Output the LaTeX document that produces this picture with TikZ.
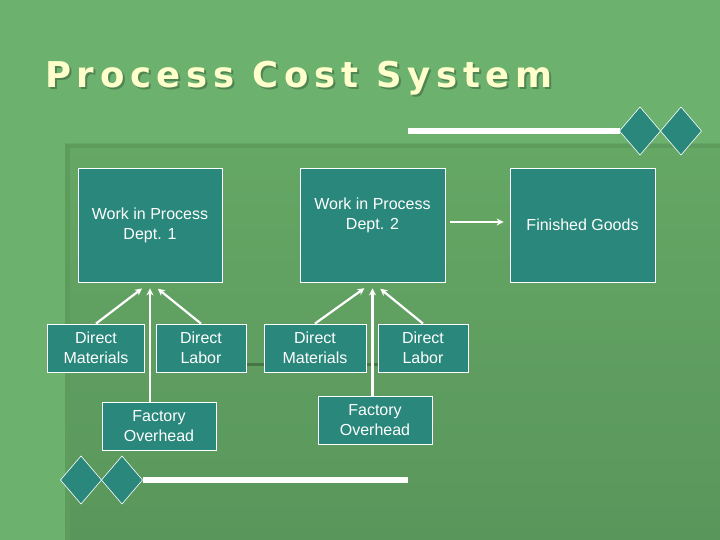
\documentclass[tikz,border=0pt]{standalone}
\usepackage{fontspec}
\setmainfont{Liberation Sans}
\newfontfamily\headfont{DejaVu Sans}[LetterSpace=16]
\usetikzlibrary{arrows.meta}

\definecolor{slidebg}{RGB}{108,178,110}
\definecolor{paneltop}{RGB}{101,167,101}
\definecolor{panelbot}{RGB}{89,150,91}
\definecolor{paneledge}{RGB}{94,156,94}
\definecolor{boxteal}{RGB}{42,135,123}
\definecolor{titlecream}{RGB}{255,255,204}
\definecolor{titleshade}{RGB}{80,132,82}

\tikzset{
	account/.style={draw=white, line width=0.8pt, fill=boxteal, text=white,
		font=\fontsize{16}{20}\selectfont, align=center, inner sep=0pt},
	ledger/.style={account, minimum width=145pt, minimum height=114pt},
	cost/.style={account, minimum height=48pt},
	flow/.style={draw=white, line width=2.2pt, -{Stealth[length=7pt,width=7pt]}},
	gem/.style={fill=boxteal, draw=white, line width=0.6pt},
	heading/.style={anchor=base west, inner sep=0pt, font=\headfont\bfseries\fontsize{35.5}{40}\selectfont}
}

\begin{document}
\begin{tikzpicture}[x=1pt, y=-1pt]
			\useasboundingbox (0,0) rectangle (720,540);
			% Slide background
			\fill[slidebg] (0,0) rectangle (720,540);
			\shade[top color=paneltop, bottom color=panelbot] (65,144) rectangle (720,540);
			\fill[paneledge] (65,144) rectangle (720,148);
			\fill[paneledge] (65,144) rectangle (70,540);
			\draw[paneledge!75!black, line width=3pt] (246,364) -- (378,364);
			% Bars and diamonds
			\draw[white, line width=6pt] (408,131) -- (620,131);
			\draw[white, line width=6pt] (143,480) -- (408,480);
			\foreach \cx/\cy in {640/131, 681/131, 81/480, 122/480} {
					\filldraw[gem] (\cx-20.5,\cy) -- ++(20.5,-24) -- ++(20.5,24) -- ++(-20.5,24) -- cycle;
				}
			% Title
			\node[heading, text=titleshade] (titleshadow) at (47,90) {Process Cost System};
			\node[heading, text=titlecream] (title) at (45,88) {Process Cost System};
			% Accounts
			\node[ledger, minimum width=144pt] (wip1) at (150,225) {Work in Process\\Dept. 1};
			\node[ledger] (wip2) at (372.5,225)
				{\raisebox{9pt}[\height][\depth]{\begin{tabular}{@{}c@{}}Work in Process\\Dept. 2\end{tabular}}};
			\node[ledger] (fg) at (582.5,225) {Finished Goods};
			% Cost inputs
			\node[cost, minimum width=97pt] (dm1) at (96,348) {Direct\\Materials};
			\node[cost, minimum width=90pt] (dl1) at (201,348) {Direct\\Labor};
			\node[cost, minimum width=114pt] (fo1) at (159,426) {Factory\\Overhead};
			\node[cost, minimum width=102pt] (dm2) at (315,348) {Direct\\Materials};
			\node[cost, minimum width=90pt] (dl2) at (423,348) {Direct\\Labor};
			\node[cost, minimum width=114pt] (fo2) at (375,420) {Factory\\Overhead};
			% Flows
			\draw[flow, shorten >=10pt] (dm1.north) -- (wip1.south);
			\draw[flow, shorten >=10pt] (dl1.north) -- (wip1.south);
			\draw[flow, shorten >=6pt] (fo1.north -| wip1.south) -- (wip1.south);
			\draw[flow, shorten >=10pt] (dm2.north) -- (wip2.south);
			\draw[flow, shorten >=10pt] (dl2.north) -- (wip2.south);
			\draw[flow, shorten >=6pt] (fo2.north -| wip2.south) -- (wip2.south);
			\draw[flow, shorten <=5pt, shorten >=6pt] ([yshift=3pt]wip2.east) -- ([yshift=3pt]fg.west);
		\end{tikzpicture}
\end{document}
